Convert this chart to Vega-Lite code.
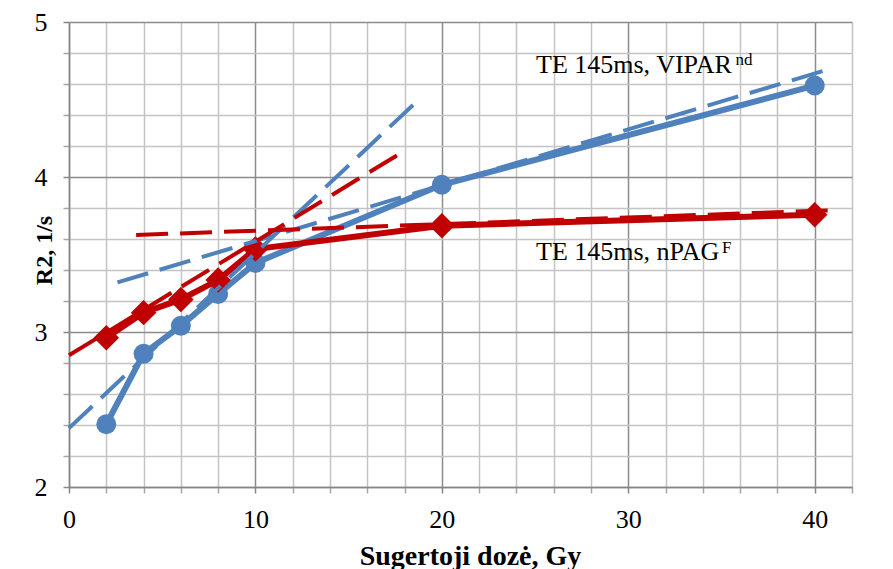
{
  "$schema": "https://vega.github.io/schema/vega-lite/v6.json",
  "width": 783,
  "height": 465,
  "autosize": {"type": "none"},
  "padding": {"left": 69, "top": 22, "right": 41, "bottom": 82},
  "background": "white",
  "config": {"view": {"stroke": null}, "font": "Liberation Serif"},
  "datasets": {
    "series": [
      {"dose": 2, "r2": 2.405, "gel": "VIPAR"},
      {"dose": 4, "r2": 2.86, "gel": "VIPAR"},
      {"dose": 6, "r2": 3.04, "gel": "VIPAR"},
      {"dose": 8, "r2": 3.245, "gel": "VIPAR"},
      {"dose": 10, "r2": 3.445, "gel": "VIPAR"},
      {"dose": 20, "r2": 3.95, "gel": "VIPAR"},
      {"dose": 40, "r2": 4.59, "gel": "VIPAR"},
      {"dose": 2, "r2": 2.963, "gel": "nPAG"},
      {"dose": 4, "r2": 3.125, "gel": "nPAG"},
      {"dose": 6, "r2": 3.21, "gel": "nPAG"},
      {"dose": 8, "r2": 3.335, "gel": "nPAG"},
      {"dose": 10, "r2": 3.535, "gel": "nPAG"},
      {"dose": 20, "r2": 3.685, "gel": "nPAG"},
      {"dose": 40, "r2": 3.757, "gel": "nPAG"}
    ],
    "trends": [
      {"dose": 0, "r2": 2.38, "trend": "A", "col": "#4F81BD"},
      {"dose": 18.5, "r2": 4.47, "trend": "A", "col": "#4F81BD"},
      {"dose": 2.6, "r2": 3.32, "trend": "B", "col": "#4F81BD"},
      {"dose": 40.9, "r2": 4.70, "trend": "B", "col": "#4F81BD"},
      {"dose": 0, "r2": 2.85, "trend": "C", "col": "#C00000"},
      {"dose": 17.6, "r2": 4.14, "trend": "C", "col": "#C00000"},
      {"dose": 3.6, "r2": 3.626, "trend": "D", "col": "#C00000"},
      {"dose": 41.3, "r2": 3.787, "trend": "D", "col": "#C00000"}
    ],
    "labels": [
      {"dose": 25.05, "r2": 4.671, "text": "TE 145ms, VIPAR"},
      {"dose": 25.05, "r2": 3.465, "text": "TE 145ms, nPAG"}
    ],
    "sups": [
      {"dose": 35.75, "r2": 4.723, "text": "nd"},
      {"dose": 35.03, "r2": 3.51, "text": "F"}
    ]
  },
  "resolve": {"axis": {"x": "independent", "y": "independent"}},
  "layer": [
    {
      "data": {"name": "series"},
      "transform": [{"filter": "datum.gel === 'VIPAR'"}],
      "mark": {"type": "line", "color": "#4F81BD", "strokeWidth": 6},
      "encoding": {
        "x": {
          "field": "dose", "type": "quantitative",
          "scale": {"domain": [0, 42], "nice": false, "zero": false},
          "axis": {
            "orient": "bottom",
            "values": [2, 4, 6, 8, 12, 14, 16, 18, 22, 24, 26, 28, 32, 34, 36, 38, 42],
            "labels": false, "title": null, "domain": false,
            "ticks": true, "tickSize": 6, "tickColor": "#A6A6A6", "tickWidth": 1.5,
            "grid": true, "gridColor": "#C4C4C4", "gridWidth": 1.5
          }
        },
        "y": {
          "field": "r2", "type": "quantitative",
          "scale": {"domain": [2, 5], "nice": false, "zero": false},
          "axis": {
            "orient": "left",
            "values": [2.2, 2.4, 2.6, 2.8, 3.2, 3.4, 3.6, 3.8, 4.2, 4.4, 4.6, 4.8],
            "labels": false, "title": null, "domain": false,
            "ticks": true, "tickSize": 6, "tickColor": "#A6A6A6", "tickWidth": 1.5,
            "grid": true, "gridColor": "#C4C4C4", "gridWidth": 1.5
          }
        }
      }
    },
    {
      "data": {"name": "series"},
      "transform": [{"filter": "datum.gel === 'VIPAR'"}],
      "mark": {"type": "point", "shape": "circle", "filled": true, "color": "#4F81BD", "opacity": 1, "size": 400},
      "encoding": {
        "x": {
          "field": "dose", "type": "quantitative",
          "axis": {
            "orient": "bottom",
            "values": [0, 10, 20, 30, 40],
            "title": "Sugertoji dozė, Gy",
            "titleFont": "Liberation Serif", "titleFontSize": 28, "titleFontWeight": "bold",
            "titleColor": "black", "titleX": 401, "titleY": 77, "titleBaseline": "alphabetic",
            "labelFont": "Liberation Serif", "labelFontSize": 26, "labelColor": "black",
            "labelBaseline": "alphabetic", "labelPadding": 34, "labelFlush": false,
            "domain": true, "domainColor": "#868686", "domainWidth": 1.5,
            "ticks": true, "tickSize": 6, "tickColor": "#868686", "tickWidth": 1.5,
            "grid": true, "gridColor": "#8C8C8C", "gridWidth": 1.5
          }
        },
        "y": {
          "field": "r2", "type": "quantitative",
          "axis": {
            "orient": "left",
            "values": [2, 3, 4, 5],
            "format": "d",
            "title": "R2, 1/s",
            "titleFont": "Liberation Serif", "titleFontSize": 24, "titleFontWeight": "bold",
            "titleColor": "black", "titleX": -25, "titleY": 228, "titleBaseline": "middle",
            "titleAlign": "center", "titleAngle": 270,
            "labelFont": "Liberation Serif", "labelFontSize": 26, "labelColor": "black",
            "labelBaseline": "middle", "labelPadding": 16, "labelFlush": false,
            "domain": true, "domainColor": "#868686", "domainWidth": 1.5,
            "ticks": true, "tickSize": 6, "tickColor": "#868686", "tickWidth": 1.5,
            "grid": true, "gridColor": "#8C8C8C", "gridWidth": 1.5
          }
        }
      }
    },
    {
      "data": {"name": "series"},
      "transform": [{"filter": "datum.gel === 'nPAG'"}],
      "mark": {"type": "line", "color": "#C00000", "strokeWidth": 6},
      "encoding": {
        "x": {"field": "dose", "type": "quantitative", "axis": null},
        "y": {"field": "r2", "type": "quantitative", "axis": null}
      }
    },
    {
      "data": {"name": "series"},
      "transform": [{"filter": "datum.gel === 'nPAG'"}],
      "mark": {"type": "point", "shape": "diamond", "filled": true, "color": "#C00000", "opacity": 1, "size": 650},
      "encoding": {
        "x": {"field": "dose", "type": "quantitative", "axis": null},
        "y": {"field": "r2", "type": "quantitative", "axis": null}
      }
    },
    {
      "data": {"name": "trends"},
      "mark": {"type": "line", "strokeWidth": 4, "strokeDash": [32, 12]},
      "encoding": {
        "x": {"field": "dose", "type": "quantitative", "axis": null},
        "y": {"field": "r2", "type": "quantitative", "axis": null},
        "detail": {"field": "trend"},
        "color": {"field": "col", "type": "nominal", "scale": null}
      }
    },
    {
      "data": {"name": "labels"},
      "mark": {"type": "text", "font": "Liberation Serif", "fontSize": 26, "align": "left", "baseline": "alphabetic", "color": "black"},
      "encoding": {
        "x": {"field": "dose", "type": "quantitative", "axis": null},
        "y": {"field": "r2", "type": "quantitative", "axis": null},
        "text": {"field": "text"}
      }
    },
    {
      "data": {"name": "sups"},
      "mark": {"type": "text", "font": "Liberation Serif", "fontSize": 17, "align": "left", "baseline": "alphabetic", "color": "black"},
      "encoding": {
        "x": {"field": "dose", "type": "quantitative", "axis": null},
        "y": {"field": "r2", "type": "quantitative", "axis": null},
        "text": {"field": "text"}
      }
    }
  ]
}
